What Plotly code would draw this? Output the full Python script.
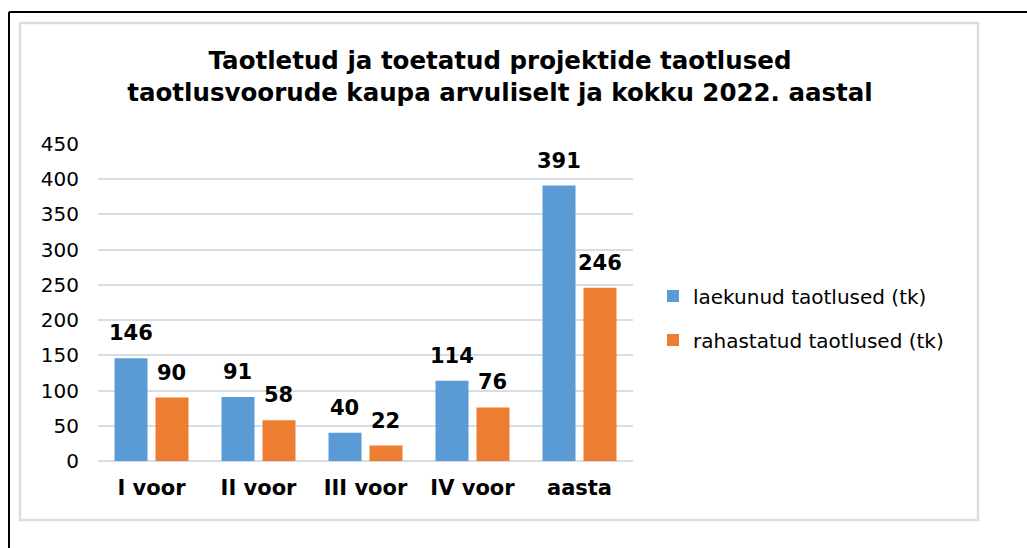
import plotly.graph_objects as go

categories = ["I voor", "II voor", "III voor", "IV voor", "aasta"]
received = [146, 91, 40, 114, 391]
funded = [90, 58, 22, 76, 246]
series_names = ["laekunud taotlused (tk)", "rahastatud taotlused (tk)"]
title_lines = ["Taotletud ja toetatud projektide taotlused",
               "taotlusvoorude kaupa arvuliselt ja kokku 2022. aastal"]
y_ticks = [0, 50, 100, 150, 200, 250, 300, 350, 400, 450]

W, H = 1027, 548
L, R, T, B = 98, 633, 144, 461
FONT = "DejaVu Sans, Liberation Sans, Arial, sans-serif"

def px_x(px):
    return (px - L) / (R - L)

def px_y(py):
    return (B - py) / (B - T)

blue = "#5B9BD5"
orange = "#ED7D31"

fig = go.Figure()
fig.add_trace(go.Bar(x=categories, y=received, name=series_names[0],
                     marker=dict(color=blue, line=dict(width=0)),
                     legendgroup="a", hoverinfo="skip"))
fig.add_trace(go.Bar(x=categories, y=funded, name=series_names[1],
                     marker=dict(color=orange, line=dict(width=0)),
                     legendgroup="b", hoverinfo="skip"))

annotations = []
for vals, shift in ((received, -21), (funded, 20)):
    for c, v in zip(categories, vals):
        annotations.append(dict(x=c, y=v, xref="x", yref="y", text=f"<b>{v}</b>",
                                showarrow=False, xshift=shift, yshift=11,
                                yanchor="bottom", xanchor="center",
                                font=dict(family=FONT, size=21, color="#000000")))

shapes = [
    dict(type="rect", xref="paper", yref="paper",
         x0=px_x(20), x1=px_x(978), y0=px_y(520), y1=px_y(23),
         line=dict(color="#D9DDE3", width=2.5), fillcolor="rgba(0,0,0,0)", layer="below"),
    dict(type="line", xref="paper", yref="paper",
         x0=px_x(9), x1=px_x(1030), y0=px_y(12), y1=px_y(12),
         line=dict(color="#000000", width=2)),
    dict(type="line", xref="paper", yref="paper",
         x0=px_x(9), x1=px_x(9), y0=px_y(12), y1=px_y(550),
         line=dict(color="#000000", width=2)),
]

fig.update_layout(
    width=W, height=H, autosize=False,
    margin=dict(l=L, r=W - R, t=T, b=H - B, autoexpand=False),
    paper_bgcolor="white", plot_bgcolor="white",
    barmode="group", bargap=0.234, bargroupgap=0.195,
    title=dict(text="<b>" + "<br>".join(title_lines) + "</b>",
               x=500 / W, xanchor="center", xref="container",
               y=1 - 69 / H, yanchor="middle", yref="container",
               font=dict(family=FONT, size=24.5, color="#000000")),
    font=dict(family=FONT, color="#000000"),
    xaxis=dict(showgrid=False, showline=False, ticks="", zeroline=False,
               tickfont=dict(family=FONT, size=21, color="#000000", weight="bold"),
               ticklabelstandoff=12),
    yaxis=dict(range=[0, 450], tickvals=y_ticks, showgrid=True,
               gridcolor="#D9DDE3", gridwidth=1.5, zeroline=True,
               zerolinecolor="#D9DDE3", zerolinewidth=1.5, showline=False,
               ticks="", tickfont=dict(family=FONT, size=20, color="#000000"),
               ticklabelstandoff=18),
    showlegend=True,
    legend=dict(x=px_x(653), xanchor="left", y=px_y(318), yanchor="middle",
                traceorder="grouped", tracegroupgap=15,
                font=dict(family=FONT, size=20, color="#000000"),
                bgcolor="rgba(0,0,0,0)", borderwidth=0),
    annotations=annotations,
    shapes=shapes,
)

fig.write_html("out.html", config={"displayModeBar": False},
               post_script="document.body.style.margin='0';")
